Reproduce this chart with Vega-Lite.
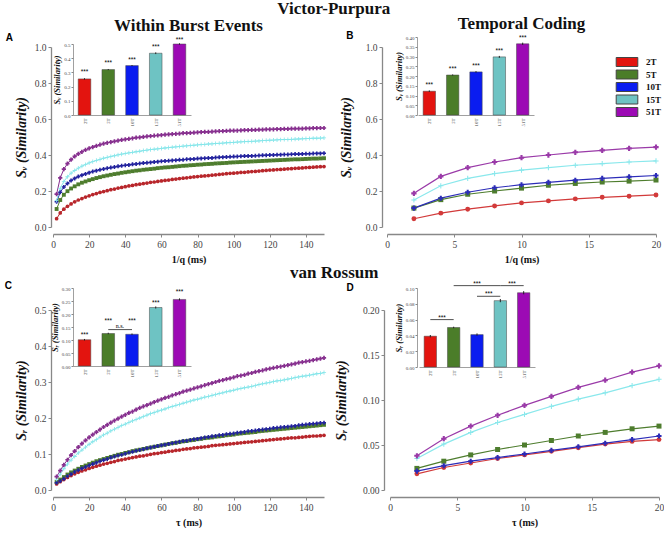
{
"$schema": "https://vega.github.io/schema/vega-lite/v6.json",
"background": "white",
"padding": {"left": 4, "right": 0, "top": 0, "bottom": 0},
"config": {
 "view": {"stroke": null},
 "font": "Liberation Serif",
 "title": {"font": "Liberation Serif", "fontSize": 17, "fontWeight": "bold", "color": "#111"},
 "axis": {"grid": false, "labelFont": "Liberation Serif", "labelFontSize": 9.5, "labelColor": "#444", "tickColor": "#888", "tickSize": 3, "domainColor": "#888", "domainWidth": 1.3, "tickWidth": 1, "labelPadding": 2, "labelFlush": false, "labelOverlap": false, "titleFont": "Liberation Serif", "titleFontWeight": "bold", "titleColor": "#111"},
 "axisX": {"titleFontSize": 10, "titlePadding": 6},
 "axisY": {"titleFontSize": 14, "titleFontStyle": "italic"}
},
"datasets": {
 "A": [
{"x":2,"2T":0.046,"5T":0.100,"10T":0.140,"15T":0.147,"51T":0.183},
{"x":4,"2T":0.078,"5T":0.150,"10T":0.193,"15T":0.215,"51T":0.273},
{"x":6,"2T":0.099,"5T":0.179,"10T":0.222,"15T":0.253,"51T":0.321},
{"x":8,"2T":0.115,"5T":0.199,"10T":0.242,"15T":0.279,"51T":0.352},
{"x":10,"2T":0.128,"5T":0.214,"10T":0.258,"15T":0.299,"51T":0.374},
{"x":12,"2T":0.140,"5T":0.226,"10T":0.270,"15T":0.314,"51T":0.392},
{"x":14,"2T":0.150,"5T":0.237,"10T":0.280,"15T":0.327,"51T":0.406},
{"x":16,"2T":0.158,"5T":0.246,"10T":0.288,"15T":0.338,"51T":0.418},
{"x":18,"2T":0.166,"5T":0.253,"10T":0.295,"15T":0.347,"51T":0.428},
{"x":20,"2T":0.173,"5T":0.260,"10T":0.302,"15T":0.356,"51T":0.437},
{"x":22,"2T":0.180,"5T":0.266,"10T":0.308,"15T":0.363,"51T":0.444},
{"x":24,"2T":0.186,"5T":0.272,"10T":0.313,"15T":0.370,"51T":0.451},
{"x":26,"2T":0.192,"5T":0.277,"10T":0.318,"15T":0.376,"51T":0.457},
{"x":28,"2T":0.197,"5T":0.282,"10T":0.322,"15T":0.382,"51T":0.463},
{"x":30,"2T":0.202,"5T":0.286,"10T":0.326,"15T":0.387,"51T":0.468},
{"x":32,"2T":0.207,"5T":0.290,"10T":0.330,"15T":0.392,"51T":0.472},
{"x":34,"2T":0.211,"5T":0.294,"10T":0.333,"15T":0.396,"51T":0.476},
{"x":36,"2T":0.216,"5T":0.297,"10T":0.337,"15T":0.401,"51T":0.480},
{"x":38,"2T":0.220,"5T":0.301,"10T":0.340,"15T":0.405,"51T":0.484},
{"x":40,"2T":0.224,"5T":0.304,"10T":0.343,"15T":0.408,"51T":0.487},
{"x":42,"2T":0.228,"5T":0.307,"10T":0.345,"15T":0.412,"51T":0.490},
{"x":44,"2T":0.231,"5T":0.310,"10T":0.348,"15T":0.415,"51T":0.493},
{"x":46,"2T":0.235,"5T":0.313,"10T":0.350,"15T":0.418,"51T":0.496},
{"x":48,"2T":0.238,"5T":0.315,"10T":0.353,"15T":0.421,"51T":0.498},
{"x":50,"2T":0.241,"5T":0.318,"10T":0.355,"15T":0.424,"51T":0.501},
{"x":52,"2T":0.244,"5T":0.320,"10T":0.357,"15T":0.427,"51T":0.503},
{"x":54,"2T":0.248,"5T":0.322,"10T":0.359,"15T":0.430,"51T":0.505},
{"x":56,"2T":0.250,"5T":0.324,"10T":0.361,"15T":0.432,"51T":0.507},
{"x":58,"2T":0.253,"5T":0.327,"10T":0.363,"15T":0.434,"51T":0.509},
{"x":60,"2T":0.256,"5T":0.329,"10T":0.365,"15T":0.437,"51T":0.511},
{"x":62,"2T":0.259,"5T":0.331,"10T":0.367,"15T":0.439,"51T":0.513},
{"x":64,"2T":0.261,"5T":0.332,"10T":0.368,"15T":0.441,"51T":0.515},
{"x":66,"2T":0.264,"5T":0.334,"10T":0.370,"15T":0.443,"51T":0.516},
{"x":68,"2T":0.266,"5T":0.336,"10T":0.371,"15T":0.445,"51T":0.518},
{"x":70,"2T":0.269,"5T":0.338,"10T":0.373,"15T":0.447,"51T":0.519},
{"x":72,"2T":0.271,"5T":0.340,"10T":0.374,"15T":0.449,"51T":0.521},
{"x":74,"2T":0.273,"5T":0.341,"10T":0.376,"15T":0.451,"51T":0.522},
{"x":76,"2T":0.276,"5T":0.343,"10T":0.377,"15T":0.453,"51T":0.523},
{"x":78,"2T":0.278,"5T":0.344,"10T":0.378,"15T":0.454,"51T":0.524},
{"x":80,"2T":0.280,"5T":0.346,"10T":0.380,"15T":0.456,"51T":0.526},
{"x":82,"2T":0.282,"5T":0.347,"10T":0.381,"15T":0.458,"51T":0.527},
{"x":84,"2T":0.284,"5T":0.349,"10T":0.382,"15T":0.459,"51T":0.528},
{"x":86,"2T":0.286,"5T":0.350,"10T":0.383,"15T":0.461,"51T":0.529},
{"x":88,"2T":0.288,"5T":0.351,"10T":0.384,"15T":0.462,"51T":0.530},
{"x":90,"2T":0.290,"5T":0.353,"10T":0.386,"15T":0.464,"51T":0.531},
{"x":92,"2T":0.292,"5T":0.354,"10T":0.387,"15T":0.465,"51T":0.532},
{"x":94,"2T":0.294,"5T":0.355,"10T":0.388,"15T":0.466,"51T":0.533},
{"x":96,"2T":0.296,"5T":0.356,"10T":0.389,"15T":0.468,"51T":0.534},
{"x":98,"2T":0.298,"5T":0.358,"10T":0.390,"15T":0.469,"51T":0.535},
{"x":100,"2T":0.299,"5T":0.359,"10T":0.391,"15T":0.470,"51T":0.535},
{"x":102,"2T":0.301,"5T":0.360,"10T":0.392,"15T":0.472,"51T":0.536},
{"x":104,"2T":0.303,"5T":0.361,"10T":0.393,"15T":0.473,"51T":0.537},
{"x":106,"2T":0.304,"5T":0.362,"10T":0.394,"15T":0.474,"51T":0.538},
{"x":108,"2T":0.306,"5T":0.363,"10T":0.395,"15T":0.475,"51T":0.538},
{"x":110,"2T":0.308,"5T":0.364,"10T":0.395,"15T":0.476,"51T":0.539},
{"x":112,"2T":0.309,"5T":0.365,"10T":0.396,"15T":0.477,"51T":0.540},
{"x":114,"2T":0.311,"5T":0.366,"10T":0.397,"15T":0.478,"51T":0.541},
{"x":116,"2T":0.313,"5T":0.367,"10T":0.398,"15T":0.480,"51T":0.541},
{"x":118,"2T":0.314,"5T":0.368,"10T":0.399,"15T":0.481,"51T":0.542},
{"x":120,"2T":0.316,"5T":0.369,"10T":0.400,"15T":0.482,"51T":0.542},
{"x":122,"2T":0.317,"5T":0.370,"10T":0.400,"15T":0.483,"51T":0.543},
{"x":124,"2T":0.319,"5T":0.371,"10T":0.401,"15T":0.484,"51T":0.544},
{"x":126,"2T":0.320,"5T":0.372,"10T":0.402,"15T":0.485,"51T":0.544},
{"x":128,"2T":0.321,"5T":0.373,"10T":0.403,"15T":0.486,"51T":0.545},
{"x":130,"2T":0.323,"5T":0.374,"10T":0.403,"15T":0.486,"51T":0.545},
{"x":132,"2T":0.324,"5T":0.375,"10T":0.404,"15T":0.487,"51T":0.546},
{"x":134,"2T":0.326,"5T":0.376,"10T":0.405,"15T":0.488,"51T":0.546},
{"x":136,"2T":0.327,"5T":0.376,"10T":0.405,"15T":0.489,"51T":0.547},
{"x":138,"2T":0.328,"5T":0.377,"10T":0.406,"15T":0.490,"51T":0.547},
{"x":140,"2T":0.330,"5T":0.378,"10T":0.407,"15T":0.491,"51T":0.548},
{"x":142,"2T":0.331,"5T":0.379,"10T":0.407,"15T":0.492,"51T":0.548},
{"x":144,"2T":0.332,"5T":0.380,"10T":0.408,"15T":0.493,"51T":0.549},
{"x":146,"2T":0.334,"5T":0.380,"10T":0.409,"15T":0.493,"51T":0.549},
{"x":148,"2T":0.335,"5T":0.381,"10T":0.409,"15T":0.494,"51T":0.550},
{"x":150,"2T":0.336,"5T":0.382,"10T":0.410,"15T":0.495,"51T":0.550}
 ],
 "B": [
{"x":2,"2T":0.046,"5T":0.105,"10T":0.105,"15T":0.150,"51T":0.187},
{"x":4,"2T":0.077,"5T":0.152,"10T":0.160,"15T":0.229,"51T":0.281},
{"x":6,"2T":0.099,"5T":0.182,"10T":0.193,"15T":0.270,"51T":0.330},
{"x":8,"2T":0.117,"5T":0.200,"10T":0.218,"15T":0.297,"51T":0.361},
{"x":10,"2T":0.134,"5T":0.216,"10T":0.235,"15T":0.316,"51T":0.385},
{"x":12,"2T":0.145,"5T":0.232,"10T":0.248,"15T":0.330,"51T":0.400},
{"x":14,"2T":0.156,"5T":0.242,"10T":0.260,"15T":0.343,"51T":0.415},
{"x":16,"2T":0.165,"5T":0.250,"10T":0.270,"15T":0.352,"51T":0.426},
{"x":18,"2T":0.171,"5T":0.255,"10T":0.279,"15T":0.361,"51T":0.437},
{"x":20,"2T":0.178,"5T":0.261,"10T":0.286,"15T":0.367,"51T":0.444}
 ],
 "C": [
{"x":2,"2T":0.017,"5T":0.022,"10T":0.020,"15T":0.030,"51T":0.037},
{"x":4,"2T":0.023,"5T":0.029,"10T":0.025,"15T":0.044,"51T":0.054},
{"x":6,"2T":0.029,"5T":0.036,"10T":0.031,"15T":0.059,"51T":0.070},
{"x":8,"2T":0.035,"5T":0.043,"10T":0.038,"15T":0.072,"51T":0.084},
{"x":10,"2T":0.040,"5T":0.049,"10T":0.044,"15T":0.083,"51T":0.097},
{"x":12,"2T":0.045,"5T":0.054,"10T":0.050,"15T":0.093,"51T":0.108},
{"x":14,"2T":0.049,"5T":0.059,"10T":0.055,"15T":0.103,"51T":0.119},
{"x":16,"2T":0.053,"5T":0.064,"10T":0.060,"15T":0.111,"51T":0.129},
{"x":18,"2T":0.056,"5T":0.068,"10T":0.064,"15T":0.119,"51T":0.138},
{"x":20,"2T":0.060,"5T":0.072,"10T":0.068,"15T":0.127,"51T":0.146},
{"x":22,"2T":0.063,"5T":0.076,"10T":0.072,"15T":0.134,"51T":0.154},
{"x":24,"2T":0.066,"5T":0.080,"10T":0.076,"15T":0.140,"51T":0.161},
{"x":26,"2T":0.069,"5T":0.083,"10T":0.080,"15T":0.147,"51T":0.168},
{"x":28,"2T":0.072,"5T":0.086,"10T":0.083,"15T":0.153,"51T":0.175},
{"x":30,"2T":0.074,"5T":0.089,"10T":0.086,"15T":0.158,"51T":0.181},
{"x":32,"2T":0.077,"5T":0.092,"10T":0.090,"15T":0.164,"51T":0.187},
{"x":34,"2T":0.079,"5T":0.095,"10T":0.093,"15T":0.169,"51T":0.193},
{"x":36,"2T":0.082,"5T":0.098,"10T":0.096,"15T":0.174,"51T":0.198},
{"x":38,"2T":0.084,"5T":0.100,"10T":0.098,"15T":0.179,"51T":0.204},
{"x":40,"2T":0.086,"5T":0.103,"10T":0.101,"15T":0.183,"51T":0.209},
{"x":42,"2T":0.088,"5T":0.105,"10T":0.104,"15T":0.188,"51T":0.214},
{"x":44,"2T":0.090,"5T":0.108,"10T":0.106,"15T":0.192,"51T":0.218},
{"x":46,"2T":0.092,"5T":0.110,"10T":0.109,"15T":0.196,"51T":0.223},
{"x":48,"2T":0.094,"5T":0.112,"10T":0.111,"15T":0.200,"51T":0.228},
{"x":50,"2T":0.095,"5T":0.114,"10T":0.113,"15T":0.204,"51T":0.232},
{"x":52,"2T":0.097,"5T":0.116,"10T":0.116,"15T":0.208,"51T":0.236},
{"x":54,"2T":0.099,"5T":0.118,"10T":0.118,"15T":0.212,"51T":0.240},
{"x":56,"2T":0.101,"5T":0.120,"10T":0.120,"15T":0.215,"51T":0.244},
{"x":58,"2T":0.102,"5T":0.122,"10T":0.122,"15T":0.219,"51T":0.248},
{"x":60,"2T":0.104,"5T":0.124,"10T":0.124,"15T":0.222,"51T":0.252},
{"x":62,"2T":0.105,"5T":0.126,"10T":0.126,"15T":0.225,"51T":0.256},
{"x":64,"2T":0.107,"5T":0.128,"10T":0.128,"15T":0.229,"51T":0.259},
{"x":66,"2T":0.108,"5T":0.130,"10T":0.130,"15T":0.232,"51T":0.263},
{"x":68,"2T":0.110,"5T":0.131,"10T":0.132,"15T":0.235,"51T":0.266},
{"x":70,"2T":0.111,"5T":0.133,"10T":0.134,"15T":0.238,"51T":0.269},
{"x":72,"2T":0.113,"5T":0.135,"10T":0.136,"15T":0.241,"51T":0.273},
{"x":74,"2T":0.114,"5T":0.136,"10T":0.137,"15T":0.244,"51T":0.276},
{"x":76,"2T":0.115,"5T":0.138,"10T":0.139,"15T":0.247,"51T":0.279},
{"x":78,"2T":0.117,"5T":0.139,"10T":0.141,"15T":0.250,"51T":0.282},
{"x":80,"2T":0.118,"5T":0.141,"10T":0.142,"15T":0.252,"51T":0.285},
{"x":82,"2T":0.119,"5T":0.142,"10T":0.144,"15T":0.255,"51T":0.288},
{"x":84,"2T":0.120,"5T":0.144,"10T":0.146,"15T":0.258,"51T":0.291},
{"x":86,"2T":0.121,"5T":0.145,"10T":0.147,"15T":0.260,"51T":0.294},
{"x":88,"2T":0.123,"5T":0.146,"10T":0.149,"15T":0.263,"51T":0.297},
{"x":90,"2T":0.124,"5T":0.148,"10T":0.150,"15T":0.265,"51T":0.300},
{"x":92,"2T":0.125,"5T":0.149,"10T":0.152,"15T":0.268,"51T":0.303},
{"x":94,"2T":0.126,"5T":0.150,"10T":0.153,"15T":0.270,"51T":0.305},
{"x":96,"2T":0.127,"5T":0.152,"10T":0.155,"15T":0.273,"51T":0.308},
{"x":98,"2T":0.128,"5T":0.153,"10T":0.156,"15T":0.275,"51T":0.310},
{"x":100,"2T":0.129,"5T":0.154,"10T":0.157,"15T":0.277,"51T":0.313},
{"x":102,"2T":0.130,"5T":0.156,"10T":0.159,"15T":0.280,"51T":0.316},
{"x":104,"2T":0.131,"5T":0.157,"10T":0.160,"15T":0.282,"51T":0.318},
{"x":106,"2T":0.132,"5T":0.158,"10T":0.161,"15T":0.284,"51T":0.320},
{"x":108,"2T":0.133,"5T":0.159,"10T":0.163,"15T":0.286,"51T":0.323},
{"x":110,"2T":0.134,"5T":0.160,"10T":0.164,"15T":0.288,"51T":0.325},
{"x":112,"2T":0.135,"5T":0.161,"10T":0.165,"15T":0.290,"51T":0.328},
{"x":114,"2T":0.136,"5T":0.163,"10T":0.167,"15T":0.293,"51T":0.330},
{"x":116,"2T":0.137,"5T":0.164,"10T":0.168,"15T":0.295,"51T":0.332},
{"x":118,"2T":0.138,"5T":0.165,"10T":0.169,"15T":0.297,"51T":0.335},
{"x":120,"2T":0.139,"5T":0.166,"10T":0.170,"15T":0.299,"51T":0.337},
{"x":122,"2T":0.140,"5T":0.167,"10T":0.172,"15T":0.301,"51T":0.339},
{"x":124,"2T":0.141,"5T":0.168,"10T":0.173,"15T":0.303,"51T":0.341},
{"x":126,"2T":0.142,"5T":0.169,"10T":0.174,"15T":0.304,"51T":0.343},
{"x":128,"2T":0.143,"5T":0.170,"10T":0.175,"15T":0.306,"51T":0.345},
{"x":130,"2T":0.144,"5T":0.171,"10T":0.176,"15T":0.308,"51T":0.347},
{"x":132,"2T":0.145,"5T":0.172,"10T":0.177,"15T":0.310,"51T":0.349},
{"x":134,"2T":0.145,"5T":0.173,"10T":0.178,"15T":0.312,"51T":0.351},
{"x":136,"2T":0.146,"5T":0.174,"10T":0.180,"15T":0.314,"51T":0.354},
{"x":138,"2T":0.147,"5T":0.175,"10T":0.181,"15T":0.316,"51T":0.355},
{"x":140,"2T":0.148,"5T":0.176,"10T":0.182,"15T":0.317,"51T":0.357},
{"x":142,"2T":0.149,"5T":0.177,"10T":0.183,"15T":0.319,"51T":0.359},
{"x":144,"2T":0.150,"5T":0.178,"10T":0.184,"15T":0.321,"51T":0.361},
{"x":146,"2T":0.150,"5T":0.179,"10T":0.185,"15T":0.323,"51T":0.363},
{"x":148,"2T":0.151,"5T":0.180,"10T":0.186,"15T":0.324,"51T":0.365},
{"x":150,"2T":0.152,"5T":0.181,"10T":0.187,"15T":0.326,"51T":0.367}
 ],
 "D": [
{"x":2,"2T":0.018,"5T":0.024,"10T":0.021,"15T":0.035,"51T":0.038},
{"x":4,"2T":0.025,"5T":0.032,"10T":0.027,"15T":0.051,"51T":0.057},
{"x":6,"2T":0.030,"5T":0.039,"10T":0.032,"15T":0.064,"51T":0.071},
{"x":8,"2T":0.035,"5T":0.045,"10T":0.036,"15T":0.075,"51T":0.083},
{"x":10,"2T":0.039,"5T":0.050,"10T":0.040,"15T":0.084,"51T":0.094},
{"x":12,"2T":0.043,"5T":0.055,"10T":0.044,"15T":0.093,"51T":0.104},
{"x":14,"2T":0.047,"5T":0.060,"10T":0.048,"15T":0.101,"51T":0.114},
{"x":16,"2T":0.051,"5T":0.064,"10T":0.052,"15T":0.108,"51T":0.122},
{"x":18,"2T":0.054,"5T":0.068,"10T":0.056,"15T":0.116,"51T":0.131},
{"x":20,"2T":0.056,"5T":0.071,"10T":0.060,"15T":0.123,"51T":0.138}
 ],
 "IA": [
{"s":"2T","v":0.254,"lo":0.249,"hi":0.259,"sy":0.305},
{"s":"5T","v":0.320,"lo":0.316,"hi":0.324,"sy":0.366},
{"s":"10T","v":0.348,"lo":0.344,"hi":0.352,"sy":0.390},
{"s":"15T","v":0.435,"lo":0.429,"hi":0.441,"sy":0.481},
{"s":"51T","v":0.500,"lo":0.495,"hi":0.505,"sy":0.530}
 ],
 "IB": [
{"s":"2T","v":0.122,"lo":0.118,"hi":0.126,"sy":0.154},
{"s":"5T","v":0.205,"lo":0.202,"hi":0.208,"sy":0.237},
{"s":"10T","v":0.221,"lo":0.217,"hi":0.225,"sy":0.253},
{"s":"15T","v":0.298,"lo":0.293,"hi":0.303,"sy":0.330},
{"s":"51T","v":0.365,"lo":0.359,"hi":0.371,"sy":0.395}
 ],
 "IC": [
{"s":"2T","v":0.101,"lo":0.098,"hi":0.104,"sy":0.120},
{"s":"5T","v":0.125,"lo":0.122,"hi":0.128,"sy":0.174},
{"s":"10T","v":0.122,"lo":0.119,"hi":0.125,"sy":0.174},
{"s":"15T","v":0.225,"lo":0.221,"hi":0.229,"sy":0.243},
{"s":"51T","v":0.256,"lo":0.252,"hi":0.260,"sy":0.284}
 ],
 "ID": [
{"s":"2T","v":0.039,"lo":0.0375,"hi":0.0405},
{"s":"5T","v":0.050,"lo":0.049,"hi":0.051},
{"s":"10T","v":0.041,"lo":0.0395,"hi":0.0425},
{"s":"15T","v":0.084,"lo":0.082,"hi":0.086},
{"s":"51T","v":0.094,"lo":0.092,"hi":0.096}
 ]
},
"spacing": -2,
"vconcat": [
{
 "title": {"text": "Victor-Purpura", "anchor": "middle", "offset": -3},
 "spacing": 12,
 "hconcat": [
 {
  "title": {"text": "Within Burst Events", "frame": "group", "offset": -2},
  "width": 271, "height": 180,
  "layer": [
   {
    "data": {"name": "A"},
    "transform": [{"fold": ["2T","5T","10T","15T","51T"], "as": ["s","v"]}],
    "encoding": {
     "x": {"field": "x", "type": "quantitative", "scale": {"domain": [0,150], "nice": false, "zero": false}, "axis": {"title": "1/q (ms)", "values": [0,20,40,60,80,100,120,140], "offset": 7}},
     "y": {"field": "v", "type": "quantitative", "scale": {"domain": [0,1], "nice": false}, "axis": {"title": "Sᵥ (Similarity)", "values": [0,0.2,0.4,0.6,0.8,1], "format": ".1f", "offset": 2, "titlePadding": 6}},
     "color": {"field": "s", "type": "nominal", "scale": {"domain": ["2T","5T","10T","15T","51T"], "range": ["#b8262b","#4e7d2e","#23239e","#86e6ea","#87308f"]}, "legend": null}
    },
    "layer": [
     {"mark": {"type": "line", "strokeWidth": 1}},
     {"mark": {"type": "point", "filled": true, "opacity": 1},
      "encoding": {
       "shape": {"field": "s", "type": "nominal", "scale": {"domain": ["2T","5T","10T","15T","51T"], "range": ["circle","square","cross","M-1,-0.2H1V0.2H-1ZM-0.2,-1H0.2V1H-0.2Z","cross"]}, "legend": null},
       "size": {"field": "s", "type": "ordinal", "scale": {"domain": ["2T","5T","10T","15T","51T"], "range": [14,18,22,10,24]}, "legend": null}
      }},
     {"transform": [{"filter": {"and": [{"field": "x", "equal": 2}, {"field": "s", "equal": "2T"}]}}],
      "mark": {"type": "text", "font": "Liberation Sans", "fontWeight": "bold", "fontSize": 10},
      "encoding": {"x": {"datum": -24.2, "type": "quantitative"}, "y": {"datum": 1.05, "type": "quantitative"}, "text": {"value": "A"}, "color": {"value": "black"}}}
    ]
   },
   {
    "data": {"name": "IA"},
    "encoding": {
     "x": {"field": "s", "type": "nominal", "sort": ["2T","5T","10T","15T","51T"], "scale": {"domain": ["2T","5T","10T","15T","51T"], "range": [20,138], "paddingInner": 0.47, "paddingOuter": 0.22}, "axis": {"orient": "bottom", "offset": -112, "title": null, "ticks": false, "labelAngle": 270, "labelFontSize": 5, "labelPadding": 3, "domainWidth": 0.8}}
    },
    "layer": [
     {"mark": {"type": "bar", "stroke": "#444", "strokeWidth": 0.5},
      "encoding": {
       "y": {"field": "v", "type": "quantitative", "scale": {"domain": [0,0.5], "range": [68,-3], "nice": false}, "axis": {"orient": "left", "offset": -20, "values": [0,0.1,0.2,0.3,0.4,0.5], "format": ".1f", "labelFontSize": 5, "tickSize": 2, "labelPadding": 1, "domainWidth": 0.8, "title": "Sᵥ (Similarity)", "titleFontSize": 8.5, "titlePadding": 2}},
       "color": {"field": "s", "type": "nominal", "scale": {"domain": ["2T","5T","10T","15T","51T"], "range": ["#e3140f","#4b7d29","#0a1cf0","#6ec3c3","#9c0ab4"]}, "legend": null}
      }},
     {"mark": {"type": "rule", "color": "#222", "strokeWidth": 1},
      "encoding": {
       "y": {"field": "lo", "type": "quantitative", "scale": {"domain": [0,0.5], "range": [68,-3], "nice": false}, "axis": {"orient": "left", "offset": -20, "values": [0,0.1,0.2,0.3,0.4,0.5], "format": ".1f", "labelFontSize": 5, "tickSize": 2, "labelPadding": 1, "domainWidth": 0.8, "title": "Sᵥ (Similarity)", "titleFontSize": 8.5, "titlePadding": 2}},
       "y2": {"field": "hi"}
      }},
     {"mark": {"type": "text", "font": "Liberation Sans", "fontSize": 6.5, "color": "black"},
      "encoding": {
       "y": {"field": "sy", "type": "quantitative", "scale": {"domain": [0,0.5], "range": [68,-3], "nice": false}, "axis": {"orient": "left", "offset": -20, "values": [0,0.1,0.2,0.3,0.4,0.5], "format": ".1f", "labelFontSize": 5, "tickSize": 2, "labelPadding": 1, "domainWidth": 0.8, "title": "Sᵥ (Similarity)", "titleFontSize": 8.5, "titlePadding": 2}},
       "text": {"value": "***"}
      }}
    ]
   }
  ],
  "resolve": {"scale": {"x": "independent", "y": "independent", "color": "independent", "shape": "independent", "size": "independent"}}
 },
 {
  "title": {"text": "Temporal Coding", "frame": "group", "offset": -2},
  "width": 269, "height": 180,
  "layer": [
   {
    "data": {"name": "B"},
    "transform": [{"fold": ["2T","5T","10T","15T","51T"], "as": ["s","v"]}],
    "encoding": {
     "x": {"field": "x", "type": "quantitative", "scale": {"domain": [0,20], "nice": false, "zero": false}, "axis": {"title": "1/q (ms)", "values": [0,5,10,15,20], "offset": 7}},
     "y": {"field": "v", "type": "quantitative", "scale": {"domain": [0,1], "nice": false}, "axis": {"title": "Sᵥ (Similarity)", "values": [0,0.2,0.4,0.6,0.8,1], "format": ".1f", "offset": 5, "titlePadding": 12}},
     "color": {"field": "s", "type": "nominal", "scale": {"domain": ["2T","5T","10T","15T","51T"], "range": ["#d23a3a","#4e7d2e","#2c2cb8","#8ae8ec","#9a3aa8"]}, "legend": null}
    },
    "layer": [
     {"mark": {"type": "line", "strokeWidth": 1.2}},
     {"mark": {"type": "point", "filled": true, "opacity": 1},
      "encoding": {
       "shape": {"field": "s", "type": "nominal", "scale": {"domain": ["2T","5T","10T","15T","51T"], "range": ["circle","square","cross","M-1,-0.2H1V0.2H-1ZM-0.2,-1H0.2V1H-0.2Z","cross"]}, "legend": null},
       "size": {"field": "s", "type": "ordinal", "scale": {"domain": ["2T","5T","10T","15T","51T"], "range": [24,28,32,14,34]}, "legend": null}
      }},
     {"transform": [{"filter": {"and": [{"field": "x", "equal": 2}, {"field": "s", "equal": "2T"}]}}],
      "mark": {"type": "text", "font": "Liberation Sans", "fontWeight": "bold", "fontSize": 10},
      "encoding": {"x": {"datum": -2.77, "type": "quantitative"}, "y": {"datum": 1.061, "type": "quantitative"}, "text": {"value": "B"}, "color": {"value": "black"}}}
    ]
   },
   {
    "data": {"name": "IB"},
    "encoding": {
     "x": {"field": "s", "type": "nominal", "sort": ["2T","5T","10T","15T","51T"], "scale": {"domain": ["2T","5T","10T","15T","51T"], "range": [31,147], "paddingInner": 0.47, "paddingOuter": 0.22}, "axis": {"orient": "bottom", "offset": -112, "title": null, "ticks": false, "labelAngle": 270, "labelFontSize": 5, "labelPadding": 3, "domainWidth": 0.8}}
    },
    "layer": [
     {"mark": {"type": "bar", "stroke": "#444", "strokeWidth": 0.5},
      "encoding": {
       "y": {"field": "v", "type": "quantitative", "scale": {"domain": [0,0.4], "range": [68,-10], "nice": false}, "axis": {"orient": "left", "offset": -30, "values": [0,0.05,0.1,0.15,0.2,0.25,0.3,0.35,0.4], "format": ".2f", "labelFontSize": 5, "tickSize": 2, "labelPadding": 1, "domainWidth": 0.8, "title": "Sᵥ (Similarity)", "titleFontSize": 8.5, "titlePadding": 2}},
       "color": {"field": "s", "type": "nominal", "scale": {"domain": ["2T","5T","10T","15T","51T"], "range": ["#e3140f","#4b7d29","#0a1cf0","#6ec3c3","#9c0ab4"]},
        "legend": {"orient": "none", "legendX": 235, "legendY": 10, "title": null, "symbolType": "M-2.4,-1H2.4V1H-2.4Z", "symbolSize": 81, "symbolStrokeColor": "#444", "symbolStrokeWidth": 1, "labelFont": "Liberation Serif", "labelFontWeight": "bold", "labelFontSize": 9, "labelColor": "#111", "labelOffset": 14, "rowPadding": -1.5}}
      }},
     {"mark": {"type": "rule", "color": "#222", "strokeWidth": 1},
      "encoding": {
       "y": {"field": "lo", "type": "quantitative", "scale": {"domain": [0,0.4], "range": [68,-10], "nice": false}, "axis": {"orient": "left", "offset": -30, "values": [0,0.05,0.1,0.15,0.2,0.25,0.3,0.35,0.4], "format": ".2f", "labelFontSize": 5, "tickSize": 2, "labelPadding": 1, "domainWidth": 0.8, "title": "Sᵥ (Similarity)", "titleFontSize": 8.5, "titlePadding": 2}},
       "y2": {"field": "hi"}
      }},
     {"mark": {"type": "text", "font": "Liberation Sans", "fontSize": 6.5, "color": "black"},
      "encoding": {
       "y": {"field": "sy", "type": "quantitative", "scale": {"domain": [0,0.4], "range": [68,-10], "nice": false}, "axis": {"orient": "left", "offset": -30, "values": [0,0.05,0.1,0.15,0.2,0.25,0.3,0.35,0.4], "format": ".2f", "labelFontSize": 5, "tickSize": 2, "labelPadding": 1, "domainWidth": 0.8, "title": "Sᵥ (Similarity)", "titleFontSize": 8.5, "titlePadding": 2}},
       "text": {"value": "***"}
      }}
    ]
   }
  ],
  "resolve": {"scale": {"x": "independent", "y": "independent", "color": "independent", "shape": "independent", "size": "independent"}}
 }
 ]
},
{
 "title": {"text": "van Rossum", "anchor": "middle", "offset": -1},
 "spacing": 7,
 "hconcat": [
 {
  "width": 271, "height": 180,
  "layer": [
   {
    "data": {"name": "C"},
    "transform": [{"fold": ["2T","5T","10T","15T","51T"], "as": ["s","v"]}],
    "encoding": {
     "x": {"field": "x", "type": "quantitative", "scale": {"domain": [0,150], "nice": false, "zero": false}, "axis": {"title": "τ (ms)", "values": [0,20,40,60,80,100,120,140], "offset": 7}},
     "y": {"field": "v", "type": "quantitative", "scale": {"domain": [0,0.5], "nice": false}, "axis": {"title": "Sᵣ (Similarity)", "values": [0,0.1,0.2,0.3,0.4,0.5], "format": ".1f", "offset": 2, "titlePadding": 6}},
     "color": {"field": "s", "type": "nominal", "scale": {"domain": ["2T","5T","10T","15T","51T"], "range": ["#b8262b","#4e7d2e","#23239e","#86e6ea","#87308f"]}, "legend": null}
    },
    "layer": [
     {"mark": {"type": "line", "strokeWidth": 1}},
     {"mark": {"type": "point", "filled": true, "opacity": 1},
      "encoding": {
       "shape": {"field": "s", "type": "nominal", "scale": {"domain": ["2T","5T","10T","15T","51T"], "range": ["circle","square","cross","M-1,-0.2H1V0.2H-1ZM-0.2,-1H0.2V1H-0.2Z","cross"]}, "legend": null},
       "size": {"field": "s", "type": "ordinal", "scale": {"domain": ["2T","5T","10T","15T","51T"], "range": [14,18,22,10,24]}, "legend": null}
      }},
     {"transform": [{"filter": {"and": [{"field": "x", "equal": 2}, {"field": "s", "equal": "2T"}]}}],
      "mark": {"type": "text", "font": "Liberation Sans", "fontWeight": "bold", "fontSize": 10},
      "encoding": {"x": {"datum": -24.7, "type": "quantitative"}, "y": {"datum": 0.567, "type": "quantitative"}, "text": {"value": "C"}, "color": {"value": "black"}}}
    ]
   },
   {
    "data": {"name": "IC"},
    "encoding": {
     "x": {"field": "s", "type": "nominal", "sort": ["2T","5T","10T","15T","51T"], "scale": {"domain": ["2T","5T","10T","15T","51T"], "range": [20,138], "paddingInner": 0.47, "paddingOuter": 0.22}, "axis": {"orient": "bottom", "offset": -124, "title": null, "ticks": false, "labelAngle": 270, "labelFontSize": 5, "labelPadding": 3, "domainWidth": 0.8}}
    },
    "layer": [
     {"mark": {"type": "bar", "stroke": "#444", "strokeWidth": 0.5},
      "encoding": {
       "y": {"field": "v", "type": "quantitative", "scale": {"domain": [0,0.3], "range": [56,-22], "nice": false}, "axis": {"orient": "left", "offset": -20, "values": [0,0.05,0.1,0.15,0.2,0.25,0.3], "format": ".2f", "labelFontSize": 5, "tickSize": 2, "labelPadding": 1, "domainWidth": 0.8, "title": "Sᵣ (Similarity)", "titleFontSize": 8.5, "titlePadding": 2}},
       "color": {"field": "s", "type": "nominal", "scale": {"domain": ["2T","5T","10T","15T","51T"], "range": ["#e3140f","#4b7d29","#0a1cf0","#6ec3c3","#9c0ab4"]}, "legend": null}
      }},
     {"mark": {"type": "rule", "color": "#222", "strokeWidth": 1},
      "encoding": {
       "y": {"field": "lo", "type": "quantitative", "scale": {"domain": [0,0.3], "range": [56,-22], "nice": false}, "axis": {"orient": "left", "offset": -20, "values": [0,0.05,0.1,0.15,0.2,0.25,0.3], "format": ".2f", "labelFontSize": 5, "tickSize": 2, "labelPadding": 1, "domainWidth": 0.8, "title": "Sᵣ (Similarity)", "titleFontSize": 8.5, "titlePadding": 2}},
       "y2": {"field": "hi"}
      }},
     {"mark": {"type": "text", "font": "Liberation Sans", "fontSize": 6.5, "color": "black"},
      "encoding": {
       "y": {"field": "sy", "type": "quantitative", "scale": {"domain": [0,0.3], "range": [56,-22], "nice": false}, "axis": {"orient": "left", "offset": -20, "values": [0,0.05,0.1,0.15,0.2,0.25,0.3], "format": ".2f", "labelFontSize": 5, "tickSize": 2, "labelPadding": 1, "domainWidth": 0.8, "title": "Sᵣ (Similarity)", "titleFontSize": 8.5, "titlePadding": 2}},
       "text": {"value": "***"}
      }},
     {"data": {"values": [{"g": 1, "s": "5T", "v": 0.14}, {"g": 1, "s": "10T", "v": 0.14}]},
      "mark": {"type": "line", "color": "#222", "strokeWidth": 0.8},
      "encoding": {
       "y": {"field": "v", "type": "quantitative", "scale": {"domain": [0,0.3], "range": [56,-22], "nice": false}, "axis": {"orient": "left", "offset": -20, "values": [0,0.05,0.1,0.15,0.2,0.25,0.3], "format": ".2f", "labelFontSize": 5, "tickSize": 2, "labelPadding": 1, "domainWidth": 0.8, "title": "Sᵣ (Similarity)", "titleFontSize": 8.5, "titlePadding": 2}},
       "detail": {"field": "g", "type": "nominal"}
      }},
     {"data": {"values": [{"s": "5T", "v": 0.14, "t": "n.s."}]},
      "mark": {"type": "text", "font": "Liberation Serif", "fontSize": 6, "color": "black", "dx": 11.7, "baseline": "bottom", "dy": -0.5},
      "encoding": {
       "y": {"field": "v", "type": "quantitative", "scale": {"domain": [0,0.3], "range": [56,-22], "nice": false}, "axis": {"orient": "left", "offset": -20, "values": [0,0.05,0.1,0.15,0.2,0.25,0.3], "format": ".2f", "labelFontSize": 5, "tickSize": 2, "labelPadding": 1, "domainWidth": 0.8, "title": "Sᵣ (Similarity)", "titleFontSize": 8.5, "titlePadding": 2}},
       "text": {"field": "t", "type": "nominal"}
      }}
    ]
   }
  ],
  "resolve": {"scale": {"x": "independent", "y": "independent", "color": "independent", "shape": "independent", "size": "independent"}}
 },
 {
  "width": 269, "height": 180,
  "layer": [
   {
    "data": {"name": "D"},
    "transform": [{"fold": ["2T","5T","10T","15T","51T"], "as": ["s","v"]}],
    "encoding": {
     "x": {"field": "x", "type": "quantitative", "scale": {"domain": [0,20], "nice": false, "zero": false}, "axis": {"title": "τ (ms)", "values": [0,5,10,15,20], "offset": 7}},
     "y": {"field": "v", "type": "quantitative", "scale": {"domain": [0,0.2], "nice": false}, "axis": {"title": "Sᵣ (Similarity)", "values": [0,0.05,0.1,0.15,0.2], "format": ".2f", "offset": 6, "titlePadding": 14}},
     "color": {"field": "s", "type": "nominal", "scale": {"domain": ["2T","5T","10T","15T","51T"], "range": ["#d23a3a","#4e7d2e","#2c2cb8","#8ae8ec","#9a3aa8"]}, "legend": null}
    },
    "layer": [
     {"mark": {"type": "line", "strokeWidth": 1.2}},
     {"mark": {"type": "point", "filled": true, "opacity": 1},
      "encoding": {
       "shape": {"field": "s", "type": "nominal", "scale": {"domain": ["2T","5T","10T","15T","51T"], "range": ["circle","square","cross","M-1,-0.2H1V0.2H-1ZM-0.2,-1H0.2V1H-0.2Z","cross"]}, "legend": null},
       "size": {"field": "s", "type": "ordinal", "scale": {"domain": ["2T","5T","10T","15T","51T"], "range": [24,28,32,14,34]}, "legend": null}
      }},
     {"transform": [{"filter": {"and": [{"field": "x", "equal": 2}, {"field": "s", "equal": "2T"}]}}],
      "mark": {"type": "text", "font": "Liberation Sans", "fontWeight": "bold", "fontSize": 10},
      "encoding": {"x": {"datum": -2.97, "type": "quantitative"}, "y": {"datum": 0.224, "type": "quantitative"}, "text": {"value": "D"}, "color": {"value": "black"}}}
    ]
   },
   {
    "data": {"name": "ID"},
    "encoding": {
     "x": {"field": "s", "type": "nominal", "sort": ["2T","5T","10T","15T","51T"], "scale": {"domain": ["2T","5T","10T","15T","51T"], "range": [29,145], "paddingInner": 0.47, "paddingOuter": 0.22}, "axis": {"orient": "bottom", "offset": -123, "title": null, "ticks": false, "labelAngle": 270, "labelFontSize": 5, "labelPadding": 3, "domainWidth": 0.8}}
    },
    "layer": [
     {"mark": {"type": "bar", "stroke": "#444", "strokeWidth": 0.5},
      "encoding": {
       "y": {"field": "v", "type": "quantitative", "scale": {"domain": [0,0.1], "range": [57,-22], "nice": false}, "axis": {"orient": "left", "offset": -27, "values": [0,0.02,0.04,0.06,0.08,0.1], "format": ".2f", "labelFontSize": 5, "tickSize": 2, "labelPadding": 1, "domainWidth": 0.8, "title": "Sᵣ (Similarity)", "titleFontSize": 8.5, "titlePadding": 2}},
       "color": {"field": "s", "type": "nominal", "scale": {"domain": ["2T","5T","10T","15T","51T"], "range": ["#e3140f","#4b7d29","#0a1cf0","#6ec3c3","#9c0ab4"]}, "legend": null}
      }},
     {"mark": {"type": "rule", "color": "#222", "strokeWidth": 1},
      "encoding": {
       "y": {"field": "lo", "type": "quantitative", "scale": {"domain": [0,0.1], "range": [57,-22], "nice": false}, "axis": {"orient": "left", "offset": -27, "values": [0,0.02,0.04,0.06,0.08,0.1], "format": ".2f", "labelFontSize": 5, "tickSize": 2, "labelPadding": 1, "domainWidth": 0.8, "title": "Sᵣ (Similarity)", "titleFontSize": 8.5, "titlePadding": 2}},
       "y2": {"field": "hi"}
      }},
     {"data": {"values": [{"g": 1, "s": "2T", "v": 0.06}, {"g": 1, "s": "5T", "v": 0.06}, {"g": 2, "s": "5T", "v": 0.103}, {"g": 2, "s": "15T", "v": 0.103}, {"g": 3, "s": "10T", "v": 0.0895}, {"g": 3, "s": "15T", "v": 0.0895}, {"g": 4, "s": "15T", "v": 0.103}, {"g": 4, "s": "51T", "v": 0.103}]},
      "mark": {"type": "line", "color": "#222", "strokeWidth": 0.8},
      "encoding": {
       "y": {"field": "v", "type": "quantitative", "scale": {"domain": [0,0.1], "range": [57,-22], "nice": false}, "axis": {"orient": "left", "offset": -27, "values": [0,0.02,0.04,0.06,0.08,0.1], "format": ".2f", "labelFontSize": 5, "tickSize": 2, "labelPadding": 1, "domainWidth": 0.8, "title": "Sᵣ (Similarity)", "titleFontSize": 8.5, "titlePadding": 2}},
       "detail": {"field": "g", "type": "nominal"}
      }},
     {"data": {"values": [{"s": "2T", "v": 0.06}, {"s": "10T", "v": 0.0895}, {"s": "15T", "v": 0.103}]},
      "mark": {"type": "text", "font": "Liberation Sans", "fontSize": 6.5, "color": "black", "dx": 11.7, "baseline": "bottom", "dy": 1},
      "encoding": {
       "y": {"field": "v", "type": "quantitative", "scale": {"domain": [0,0.1], "range": [57,-22], "nice": false}, "axis": {"orient": "left", "offset": -27, "values": [0,0.02,0.04,0.06,0.08,0.1], "format": ".2f", "labelFontSize": 5, "tickSize": 2, "labelPadding": 1, "domainWidth": 0.8, "title": "Sᵣ (Similarity)", "titleFontSize": 8.5, "titlePadding": 2}},
       "text": {"value": "***"}
      }},
     {"data": {"values": [{"s": "10T", "v": 0.103}]},
      "mark": {"type": "text", "font": "Liberation Sans", "fontSize": 6.5, "color": "black", "baseline": "bottom", "dy": 1},
      "encoding": {
       "y": {"field": "v", "type": "quantitative", "scale": {"domain": [0,0.1], "range": [57,-22], "nice": false}, "axis": {"orient": "left", "offset": -27, "values": [0,0.02,0.04,0.06,0.08,0.1], "format": ".2f", "labelFontSize": 5, "tickSize": 2, "labelPadding": 1, "domainWidth": 0.8, "title": "Sᵣ (Similarity)", "titleFontSize": 8.5, "titlePadding": 2}},
       "text": {"value": "***"}
      }}
    ]
   }
  ],
  "resolve": {"scale": {"x": "independent", "y": "independent", "color": "independent", "shape": "independent", "size": "independent"}}
 }
 ]
}
]
}
